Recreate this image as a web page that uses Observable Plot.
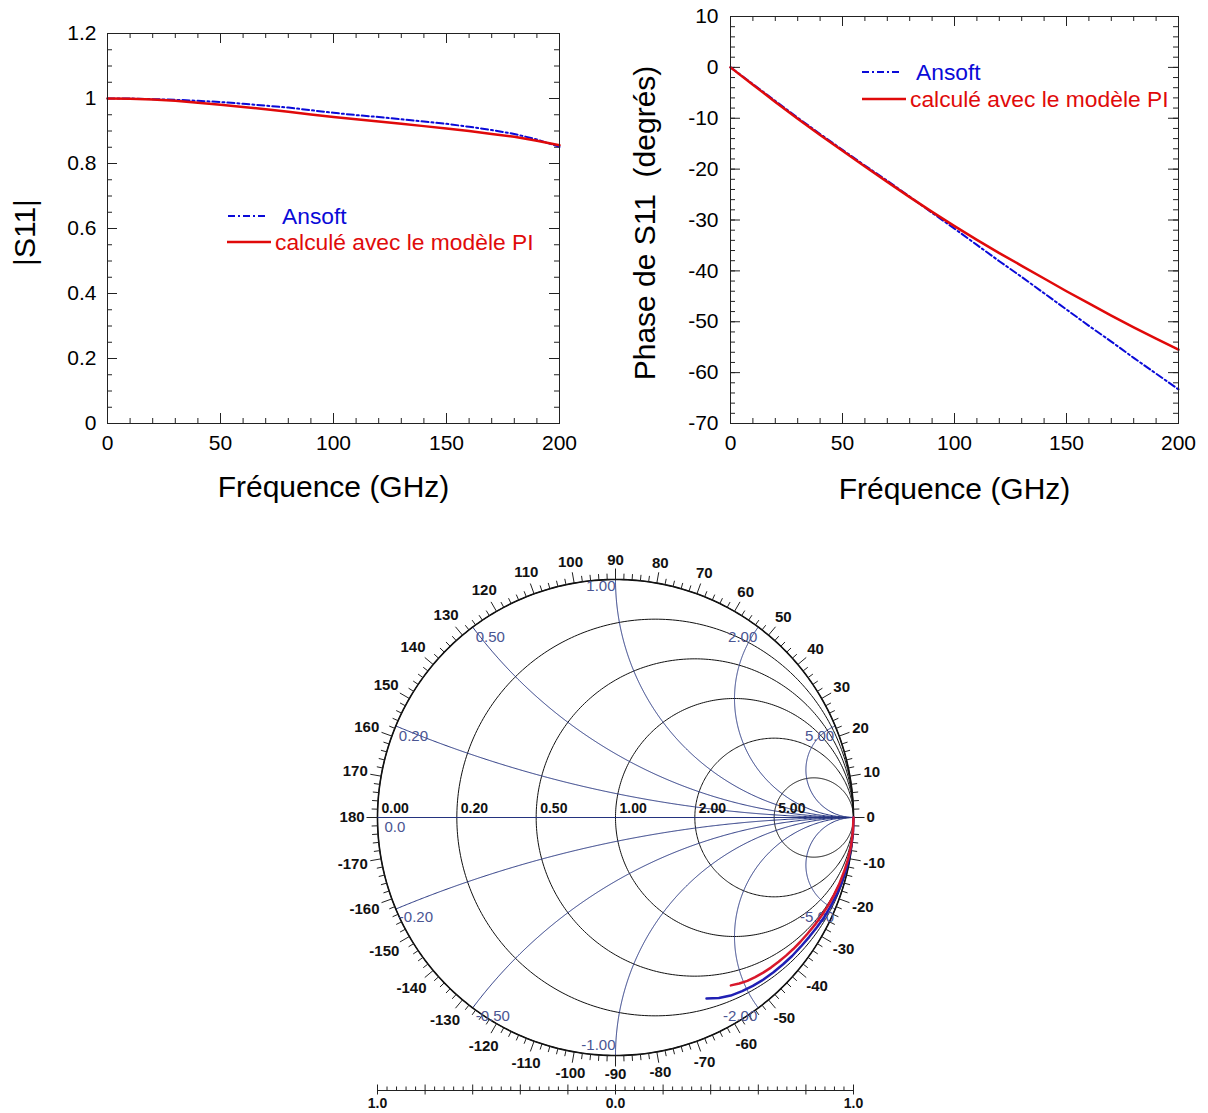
<!DOCTYPE html>
<html><head><meta charset="utf-8">
<script src="https://cdn.jsdelivr.net/npm/d3@7"></script>
<script src="https://cdn.jsdelivr.net/npm/@observablehq/plot@0.6"></script>
<style>
body{margin:0;background:#fff;}
#root{position:relative;width:1208px;height:1113px;overflow:hidden;background:#fff;font-family:"Liberation Sans",Arial,sans-serif;}
.panel{position:absolute;}
</style></head><body><div id="root"></div>
<script>
// ---------- data ----------
const freqGHz = [0,10,20,30,40,50,60,70,80,90,100,110,120,130,140,150,160,170,180,190,200];
const magAnsoft = [1.000,1.000,0.998,0.996,0.993,0.989,0.984,0.978,0.972,0.964,0.956,0.949,0.943,0.936,0.929,0.922,0.913,0.903,0.891,0.874,0.851];
const magPI     = [1.000,0.999,0.997,0.993,0.987,0.981,0.974,0.967,0.959,0.951,0.943,0.936,0.929,0.922,0.915,0.908,0.900,0.891,0.882,0.870,0.856];
const phaseAnsoft = [0,-3.3,-6.6,-9.9,-13.1,-16.2,-19.3,-22.3,-25.4,-28.6,-31.7,-34.9,-38.1,-41.2,-44.4,-47.6,-50.8,-53.9,-57.1,-60.2,-63.3];
const phasePI     = [0,-3.4,-6.8,-10.1,-13.3,-16.4,-19.5,-22.5,-25.5,-28.4,-31.2,-33.9,-36.5,-39.0,-41.5,-44.0,-46.4,-48.8,-51.1,-53.3,-55.5];

const seriesNames = ["Ansoft", "calculé avec le modèle PI"];
const freqTicks = [0,50,100,150,200];
const magTicks = [0,0.2,0.4,0.6,0.8,1,1.2];
const phaseTicks = [10,0,-10,-20,-30,-40,-50,-60,-70];

const smithResistances = [0.2,0.5,1,2,5];
const smithResLabels = ["0.20","0.50","1.00","2.00","5.00"];
const smithReactances = [0.2,0.5,1,2,5,-0.2,-0.5,-1,-2,-5];
const smithReaLabels = ["0.20","0.50","1.00","2.00","5.00","-0.20","-0.50","-1.00","-2.00","-5.00"];
const smithAngleLabels = [-170,-160,-150,-140,-130,-120,-110,-100,-90,-80,-70,-60,-50,-40,-30,-20,-10,0,10,20,30,40,50,60,70,80,90,100,110,120,130,140,150,160,170,180];
const scaleBarLabels = ["1.0","0.0","1.0"];

// ---------- style ----------
const FONT = "'Liberation Sans', Arial, Helvetica, sans-serif";
const BLUE = "#0a0ad8", RED = "#e00a0a";
const root = document.getElementById("root");
function place(el, left, top){ el.classList.add("panel"); el.style.left=left+"px"; el.style.top=top+"px"; root.appendChild(el); }

function inwardTicks(fw, fh, xMaj, xMin, yMaj, yMin){
  const L=10, S=5;
  return [
    Plot.tickX(xMaj,{x:d=>d, insetTop:fh-L, stroke:"#222"}),
    Plot.tickX(xMaj,{x:d=>d, insetBottom:fh-L, stroke:"#222"}),
    Plot.tickX(xMin,{x:d=>d, insetTop:fh-S, stroke:"#222"}),
    Plot.tickX(xMin,{x:d=>d, insetBottom:fh-S, stroke:"#222"}),
    Plot.tickY(yMaj,{y:d=>d, insetRight:fw-L, stroke:"#222"}),
    Plot.tickY(yMaj,{y:d=>d, insetLeft:fw-L, stroke:"#222"}),
    Plot.tickY(yMin,{y:d=>d, insetRight:fw-S, stroke:"#222"}),
    Plot.tickY(yMin,{y:d=>d, insetLeft:fw-S, stroke:"#222"})
  ];
}

// ---------- |S11| chart ----------
const rows = freqGHz.map((f,i)=>({f, magA:magAnsoft[i], magP:magPI[i], phA:phaseAnsoft[i], phP:phasePI[i]}));
const minorF = d3.range(0,201,10);
{
  const ml=107, mr=41, mt=33, mb=87, W=600, H=510;
  const chart = Plot.plot({
    width:W, height:H, marginLeft:ml, marginRight:mr, marginTop:mt, marginBottom:mb,
    style:{fontFamily:FONT, fontSize:"21px", color:"#000", background:"transparent", overflow:"visible"},
    x:{domain:[0,200], axis:null}, y:{domain:[0,1.2], axis:null},
    marks:[
      Plot.axisX(freqTicks,{anchor:"bottom", tickSize:0, tickPadding:12, fontSize:21, tickFormat:d=>String(d), label:null}),
      Plot.axisY(magTicks,{anchor:"left", tickSize:0, tickPadding:11, fontSize:21, tickFormat:d=>String(d), label:null}),
      ...inwardTicks(W-ml-mr, H-mt-mb, freqTicks, minorF, magTicks, d3.range(0,1.2001,0.05).map(v=>+v.toFixed(2))),
      Plot.line(rows,{x:"f", y:"magA", stroke:BLUE, strokeWidth:2, strokeDasharray:"7,3,2,3"}),
      Plot.line(rows,{x:"f", y:"magP", stroke:RED, strokeWidth:2.5}),
      Plot.frame({stroke:"#222"}),
      Plot.text(["Fréquence (GHz)"],{frameAnchor:"bottom", dy:64, lineAnchor:"middle", textAnchor:"middle", fontSize:30}),
      Plot.text(["|S11|"],{frameAnchor:"left", dx:-82, dy:4, rotate:-90, textAnchor:"middle", lineAnchor:"middle", fontSize:30})
    ]
  });
  place(chart, 0, 0);
}
// ---------- Phase chart ----------
{
  const ml=122, mr=30, mt=16, mb=87, W=600, H=510;
  const chart = Plot.plot({
    width:W, height:H, marginLeft:ml, marginRight:mr, marginTop:mt, marginBottom:mb,
    style:{fontFamily:FONT, fontSize:"21px", color:"#000", background:"transparent", overflow:"visible"},
    x:{domain:[0,200], axis:null}, y:{domain:[-70,10], axis:null},
    marks:[
      Plot.axisX(freqTicks,{anchor:"bottom", tickSize:0, tickPadding:12, fontSize:21, tickFormat:d=>String(d), label:null}),
      Plot.axisY(phaseTicks,{anchor:"left", tickSize:0, tickPadding:12, fontSize:21, tickFormat:d=>String(d), label:null}),
      ...inwardTicks(W-ml-mr, H-mt-mb, freqTicks, minorF, phaseTicks, d3.range(-70,11,2)),
      Plot.line(rows,{x:"f", y:"phA", stroke:BLUE, strokeWidth:2, strokeDasharray:"7,3,2,3"}),
      Plot.line(rows,{x:"f", y:"phP", stroke:RED, strokeWidth:2.5}),
      Plot.frame({stroke:"#222"}),
      Plot.text(["Fréquence (GHz)"],{frameAnchor:"bottom", dy:66, lineAnchor:"middle", textAnchor:"middle", fontSize:30}),
      Plot.text(["Phase de S11\u00a0 (degrés)"],{frameAnchor:"left", dx:-85, dy:3, rotate:-90, textAnchor:"middle", lineAnchor:"middle", fontSize:30})
    ]
  });
  place(chart, 608, 0);
}
// ---------- legends ----------
function legend(left, top, items){
  const svg = d3.create("svg").attr("width",320).attr("height",60).style("overflow","visible");
  items.forEach((it,i)=>{
    svg.append("line").attr("x1",it.x1).attr("x2",it.x2).attr("y1",it.y).attr("y2",it.y)
      .attr("stroke",it.color).attr("stroke-width",it.dash?2:2.5).attr("stroke-dasharray",it.dash||null);
    svg.append("text").attr("x",it.tx).attr("y",it.y+2).attr("dominant-baseline","middle")
      .attr("fill",it.color).style("font-family",FONT).style("font-size","22.8px").text(it.name);
  });
  place(svg.node(), left, top);
}
legend(220, 200, [
  {name:seriesNames[0], color:BLUE, dash:"7,3,2,3", x1:8, x2:46, y:16, tx:62},
  {name:seriesNames[1], color:RED, x1:7, x2:51, y:42, tx:55}
]);
legend(854, 56, [
  {name:seriesNames[0], color:BLUE, dash:"7,3,2,3", x1:8, x2:46, y:16, tx:62},
  {name:seriesNames[1], color:RED, x1:8, x2:52, y:43, tx:56}
]);

// ---------- Smith chart ----------
{
  const R = 238; // px per unit of reflection coefficient
  const NAVY = "#24337f", LAB = "#4a5592";
  const gam = (r,x)=>{ const d=(r+1)**2+x*x; return [(r*r+x*x-1)/d, 2*x/d]; };
  const resPts = [];
  [0,...smithResistances].forEach(r=>{
    const c=r/(1+r), rad=1/(1+r);
    for(let k=0;k<=360;k++){ const t=k*Math.PI/180; resPts.push({r, gx:c+rad*Math.cos(t), gy:rad*Math.sin(t)}); }
  });
  const reaPts = [];
  smithReactances.forEach(x=>{
    for(let k=0;k<=500;k++){ const t=k/500*Math.PI/2*0.99995; const [gx,gy]=gam(Math.tan(t),x); reaPts.push({x,gx,gy}); }
    reaPts.push({x,gx:1,gy:0});
  });
  const reaLabels = smithReactances.map((x,i)=>{
    const [gx,gy]=gam(0,x);
    const anchor = gx<0 ? "start":"end";
    let dx = gx<0 ? 3 : -1;
    let dy = x>0 ? 10 : 8;
    if (x===1){ dx=0; dy=7; }
    if (x===-1){ dx=0; dy=-10; }
    return {lx:gx+dx/R, ly:gy-dy/R, t:smithReaLabels[i], anchor};
  });
  const resLabels = [{r:0,t:"0.00"}, ...smithResistances.map((r,i)=>({r,t:smithResLabels[i]}))].map(d=>({gx:(d.r-1)/(d.r+1), t:d.t}));
  const angTicks = d3.range(-180,180,2).map(a=>({a, len:(a%10===0?11:6)/R}));
  const angLabels = smithAngleLabels.map(a=>{
    const s=String(a), w = (s.replace("-","").length)*8.3 + (a<0?5:0);
    const t=a*Math.PI/180; const rc = (251 + Math.abs(Math.cos(t))*w/2 + Math.abs(Math.sin(t))*6)/R;
    return {s, gx:rc*Math.cos(t), gy:rc*Math.sin(t)};
  });
  const smithRows = rows.map(d=>({
    ax: d.magA*Math.cos(d.phA*Math.PI/180), ay: d.magA*Math.sin(d.phA*Math.PI/180),
    px: d.magP*Math.cos(d.phP*Math.PI/180), py: d.magP*Math.sin(d.phP*Math.PI/180)
  }));
  const barY = -273/R;
  const barTicks = d3.range(-25,26).map(k=>({v:k*0.04, major:k%5===0}));
  const barLabels = [-1,0,1].map((v,i)=>({v, t:scaleBarLabels[i]}));

  const chart = Plot.plot({
    width:600, height:593, marginLeft:62, marginRight:62, marginTop:59, marginBottom:58,
    style:{fontFamily:FONT, color:"#000", background:"transparent", overflow:"visible"},
    x:{domain:[-1,1], axis:null}, y:{domain:[-1,1], axis:null},
    marks:[
      Plot.line(resPts,{x:"gx", y:"gy", z:"r", stroke:"#111", strokeWidth:1}),
      Plot.line(reaPts,{x:"gx", y:"gy", z:"x", stroke:NAVY, strokeWidth:1}),
      Plot.line(resPts.filter(d=>d.r===0),{x:"gx", y:"gy", stroke:"#111", strokeWidth:1.6}),
      Plot.link([0],{x1:-1-10/R, x2:1, y1:0, y2:0, stroke:NAVY, strokeWidth:1.2}),
      Plot.link(angTicks,{x1:d=>Math.cos(d.a*Math.PI/180), y1:d=>Math.sin(d.a*Math.PI/180),
        x2:d=>(1+d.len)*Math.cos(d.a*Math.PI/180), y2:d=>(1+d.len)*Math.sin(d.a*Math.PI/180), stroke:"#222", strokeWidth:1}),
      Plot.text(angLabels,{x:"gx", y:"gy", text:"s", fontSize:15, fontWeight:"bold", fill:"#111"}),
      Plot.text(resLabels,{x:"gx", y:0, text:"t", textAnchor:"start", dx:4, dy:-9, fontSize:14, fontWeight:"bold", fill:"#111"}),
      Plot.text(reaLabels.filter(d=>d.anchor==="start"),{x:"lx", y:"ly", text:"t", textAnchor:"start", fontSize:15, fill:LAB}),
      Plot.text(reaLabels.filter(d=>d.anchor==="end"),{x:"lx", y:"ly", text:"t", textAnchor:"end", fontSize:15, fill:LAB}),
      Plot.text(["0.0"],{x:-1, y:0, textAnchor:"start", dx:7, dy:10, fontSize:15, fill:LAB}),
      Plot.line(smithRows,{x:"ax", y:"ay", stroke:"#2020b4", strokeWidth:2.5}),
      Plot.line(smithRows,{x:"px", y:"py", stroke:"#d8182c", strokeWidth:2.5}),
      Plot.link([0],{x1:-1, x2:1, y1:barY, y2:barY, stroke:"#222"}),
      Plot.link(barTicks,{x1:"v", x2:"v", y1:d=>barY-(d.major?4:0)/R, y2:d=>barY+(d.major?6:4)/R, stroke:"#222"}),
      Plot.text(barLabels,{x:"v", y:barY, text:"t", dy:13, fontSize:14, fontWeight:"bold", fill:"#111"})
    ]
  });
  place(chart, 315, 520);
}
</script></body></html>
